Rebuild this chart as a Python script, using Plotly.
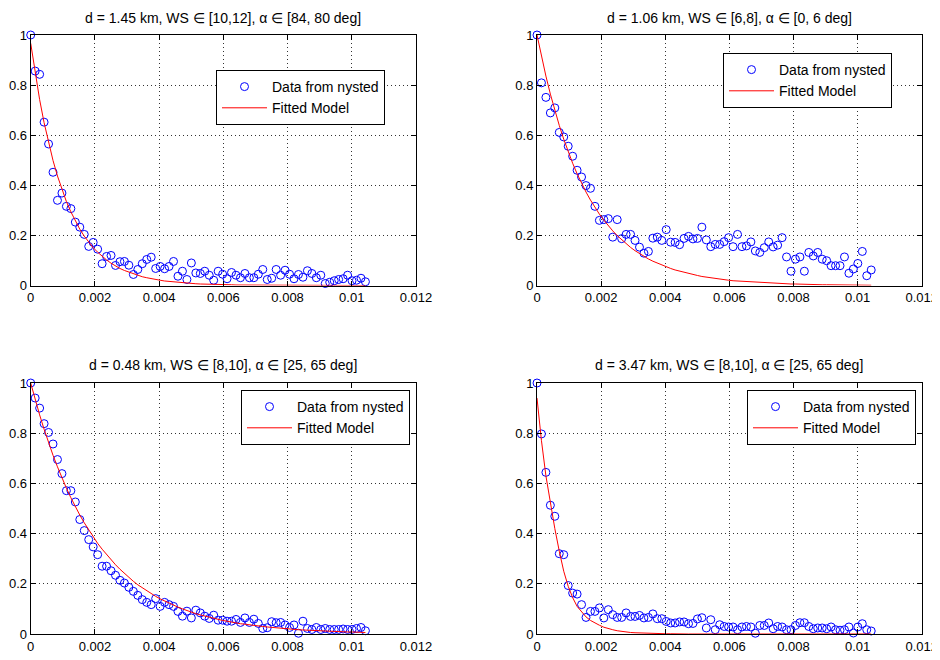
import plotly.graph_objects as go

# ---------------- data ----------------
lag = [0.0, 0.000139, 0.000278, 0.000417, 0.000556, 0.000695, 0.000834, 0.000973,
       0.001112, 0.001251, 0.00139, 0.001529, 0.001668, 0.001807, 0.001946, 0.002085,
       0.002224, 0.002363, 0.002502, 0.002641, 0.00278, 0.002919, 0.003058, 0.003197,
       0.003336, 0.003475, 0.003614, 0.003753, 0.003892, 0.004031, 0.00417, 0.004309,
       0.004448, 0.004587, 0.004726, 0.004865, 0.005004, 0.005143, 0.005282, 0.005421,
       0.00556, 0.005699, 0.005838, 0.005977, 0.006116, 0.006255, 0.006394, 0.006533,
       0.006672, 0.006811, 0.00695, 0.007089, 0.007228, 0.007367, 0.007506, 0.007645,
       0.007784, 0.007923, 0.008062, 0.008201, 0.00834, 0.008479, 0.008618, 0.008757,
       0.008896, 0.009035, 0.009174, 0.009313, 0.009452, 0.009591, 0.00973, 0.009869,
       0.010008, 0.010147, 0.010286, 0.010425]

p1_data = [1.0, 0.856, 0.843, 0.652, 0.565, 0.452, 0.34, 0.369, 0.316, 0.307,
           0.253, 0.233, 0.204, 0.156, 0.172, 0.145, 0.087, 0.116, 0.12, 0.08,
           0.095, 0.096, 0.081, 0.044, 0.064, 0.087, 0.104, 0.113, 0.068, 0.076,
           0.067, 0.076, 0.096, 0.037, 0.057, 0.024, 0.09, 0.05, 0.048, 0.057,
           0.041, 0.021, 0.057, 0.045, 0.027, 0.052, 0.041, 0.031, 0.048, 0.031,
           0.031, 0.045, 0.064, 0.024, 0.029, 0.064, 0.041, 0.061, 0.045, 0.027,
           0.044, 0.033, 0.059, 0.048, 0.031, 0.041, 0.008, 0.013, 0.019, 0.024,
           0.027, 0.041, 0.019, 0.021, 0.029, 0.015]
p1_fit = [0.967, 0.847, 0.742, 0.650, 0.569, 0.499, 0.437, 0.383, 0.335, 0.294,
          0.257, 0.225, 0.197, 0.173, 0.151, 0.133, 0.116, 0.102, 0.089, 0.078,
          0.068, 0.060, 0.053, 0.046, 0.040, 0.035, 0.031, 0.027, 0.024, 0.021,
          0.018, 0.016, 0.014, 0.012, 0.011, 0.010, 0.008, 0.007, 0.006, 0.006,
          0.005, 0.004, 0.004, 0.003, 0.003, 0.003, 0.002, 0.002, 0.002, 0.002,
          0.001, 0.001, 0.001, 0.001, 0.001, 0.001, 0.001, 0.001, 0.0, 0.0,
          0.0, 0.0, 0.0, 0.0, 0.0, 0.0, 0.0, 0.0, 0.0, 0.0,
          0.0, 0.0, 0.0, 0.0, 0.0, 0.0]

p2_data = [1.0, 0.809, 0.751, 0.689, 0.709, 0.611, 0.593, 0.556, 0.516, 0.46,
           0.433, 0.399, 0.388, 0.316, 0.26, 0.263, 0.267, 0.193, 0.263, 0.187,
           0.204, 0.204, 0.18, 0.153, 0.129, 0.136, 0.189, 0.193, 0.18, 0.223,
           0.173, 0.172, 0.163, 0.188, 0.196, 0.186, 0.188, 0.233, 0.182, 0.155,
           0.164, 0.164, 0.175, 0.191, 0.155, 0.204, 0.155, 0.158, 0.174, 0.138,
           0.132, 0.151, 0.174, 0.154, 0.161, 0.191, 0.114, 0.057, 0.105, 0.114,
           0.057, 0.132, 0.118, 0.132, 0.105, 0.099, 0.079, 0.079, 0.079, 0.114,
           0.049, 0.066, 0.088, 0.136, 0.039, 0.062]
p2_fit = [1.000, 0.914, 0.836, 0.764, 0.699, 0.639, 0.584, 0.534, 0.488, 0.446,
          0.408, 0.373, 0.341, 0.312, 0.285, 0.261, 0.238, 0.218, 0.199, 0.182,
          0.167, 0.152, 0.139, 0.127, 0.116, 0.106, 0.097, 0.089, 0.081, 0.074,
          0.068, 0.062, 0.057, 0.052, 0.047, 0.043, 0.040, 0.036, 0.033, 0.030,
          0.028, 0.025, 0.023, 0.021, 0.019, 0.018, 0.016, 0.015, 0.014, 0.013,
          0.011, 0.010, 0.010, 0.009, 0.008, 0.007, 0.007, 0.006, 0.006, 0.005,
          0.005, 0.004, 0.004, 0.004, 0.003, 0.003, 0.003, 0.003, 0.002, 0.002,
          0.002, 0.002, 0.002, 0.001, 0.001, 0.001]

p3_data = [1.0, 0.94, 0.90, 0.838, 0.803, 0.757, 0.695, 0.639, 0.571, 0.571,
           0.526, 0.456, 0.412, 0.376, 0.347, 0.316, 0.27, 0.27, 0.252, 0.234,
           0.214, 0.203, 0.186, 0.17, 0.154, 0.137, 0.126, 0.117, 0.141, 0.11,
           0.126, 0.117, 0.11, 0.09, 0.071, 0.091, 0.064, 0.095, 0.084, 0.071,
           0.062, 0.075, 0.055, 0.055, 0.051, 0.051, 0.058, 0.046, 0.064, 0.046,
           0.059, 0.042, 0.022, 0.025, 0.049, 0.045, 0.046, 0.036, 0.026, 0.036,
           0.003, 0.051, 0.022, 0.018, 0.026, 0.018, 0.022, 0.018, 0.018, 0.018,
           0.02, 0.018, 0.018, 0.022, 0.026, 0.013]
p3_fit = [1.000, 0.934, 0.873, 0.816, 0.762, 0.712, 0.666, 0.622, 0.581, 0.543,
          0.507, 0.474, 0.443, 0.414, 0.387, 0.361, 0.338, 0.316, 0.295, 0.276,
          0.258, 0.241, 0.225, 0.210, 0.196, 0.184, 0.171, 0.160, 0.150, 0.140,
          0.131, 0.122, 0.114, 0.107, 0.100, 0.093, 0.087, 0.081, 0.076, 0.071,
          0.066, 0.062, 0.058, 0.054, 0.051, 0.047, 0.044, 0.041, 0.039, 0.036,
          0.034, 0.032, 0.030, 0.028, 0.026, 0.024, 0.023, 0.021, 0.020, 0.018,
          0.017, 0.016, 0.015, 0.014, 0.013, 0.012, 0.011, 0.011, 0.010, 0.009,
          0.009, 0.008, 0.008, 0.007, 0.007, 0.006]

p4_data = [1.0, 0.797, 0.644, 0.513, 0.469, 0.32, 0.316, 0.193, 0.163, 0.159,
           0.117, 0.066, 0.09, 0.09, 0.104, 0.064, 0.097, 0.077, 0.066, 0.066,
           0.084, 0.07, 0.07, 0.074, 0.064, 0.066, 0.08, 0.061, 0.061, 0.05,
           0.044, 0.044, 0.048, 0.048, 0.041, 0.042, 0.06, 0.065, 0.024, 0.057,
           0.017, 0.037, 0.03, 0.028, 0.028, 0.017, 0.028, 0.03, 0.028, 0.003,
           0.034, 0.034, 0.044, 0.021, 0.03, 0.028, 0.017, 0.017, 0.034, 0.045,
           0.045, 0.03, 0.021, 0.024, 0.024, 0.021, 0.028, 0.017, 0.015, 0.017,
           0.028, 0.004, 0.028, 0.041, 0.017, 0.012]
p4_fit = [0.94, 0.77, 0.63, 0.52, 0.42, 0.33, 0.25, 0.19, 0.145, 0.11,
          0.088, 0.068, 0.054, 0.043, 0.035, 0.027, 0.021, 0.017, 0.013, 0.010,
          0.008, 0.006, 0.005, 0.004, 0.003, 0.003, 0.002, 0.002, 0.001, 0.001,
          0.001, 0.0, 0.0, 0.0, 0.0, 0.0, 0.0, 0.0, 0.0, 0.0,
          0.0, 0.0, 0.0, 0.0, 0.0, 0.0, 0.0, 0.0, 0.0, 0.0,
          0.0, 0.0, 0.0, 0.0, 0.0, 0.0, 0.0, 0.0, 0.0, 0.0,
          0.0, 0.0, 0.0, 0.0, 0.0, 0.0, 0.0, 0.0, 0.0, 0.0,
          0.0, 0.0, 0.0, 0.0, 0.0, 0.0]

titles = ["d = 1.45 km, WS \u2208 [10,12], \u03b1 \u2208 [84, 80 deg]",
          "d = 1.06 km, WS \u2208 [6,8], \u03b1 \u2208 [0, 6 deg]",
          "d = 0.48 km, WS \u2208 [8,10], \u03b1 \u2208 [25, 65 deg]",
          "d = 3.47 km, WS \u2208 [8,10], \u03b1 \u2208 [25, 65 deg]"]
data_name = "Data from nysted"
fit_name = "Fitted Model"

x_tick_vals = [0, 0.002, 0.004, 0.006, 0.008, 0.01, 0.012]
x_tick_text = ["0", "0.002", "0.004", "0.006", "0.008", "0.01", "0.012"]
y_tick_vals = [0, 0.2, 0.4, 0.6, 0.8, 1]
y_tick_text = ["0", "0.2", "0.4", "0.6", "0.8", "1"]

# ---------------- layout geometry (page pixels) ----------------
OFF = 8                      # default body margin of the html page
W, H = 940 - OFF, 660 - OFF  # figure size so that it ends at the window edge
FONT = "Liberation Sans, Arial, Helvetica, sans-serif"
col_px = [(30.7, 416.0), (537.0, 921.7)]
row_px = [(35.0, 285.5), (383.0, 634.0)]
legend_px = [(216, 70), (723, 53), (241, 390), (747, 390)]
title_px_y = [18, 365]


def fx(px):
    return (px - OFF) / W


def fy(py):
    return 1 - (py - OFF) / H


panels = [(p1_data, p1_fit), (p2_data, p2_fit), (p3_data, p3_fit), (p4_data, p4_fit)]

fig = go.Figure()
layout = dict(width=W, height=H, autosize=False,
              margin=dict(l=0, r=0, t=0, b=0, pad=0, autoexpand=False),
              paper_bgcolor="white", plot_bgcolor="white",
              font=dict(family=FONT, size=13, color="black"),
              annotations=[])

for k, (yd, yf) in enumerate(panels):
    r, c = divmod(k, 2)
    sfx = "" if k == 0 else str(k + 1)
    xa, ya = "x" + sfx, "y" + sfx
    lg = "legend" + sfx
    fig.add_trace(go.Scatter(x=lag, y=yd, mode="markers", name=data_name,
                             xaxis=xa, yaxis=ya, legend=lg, cliponaxis=False,
                             marker=dict(symbol="circle-open", size=8, color="#0000ff",
                                         line=dict(width=1, color="#0000ff"))))
    fig.add_trace(go.Scatter(x=lag, y=yf, mode="lines", name=fit_name,
                             xaxis=xa, yaxis=ya, legend=lg,
                             line=dict(color="#ff0000", width=1)))
    x0, x1 = col_px[c]
    y0, y1 = row_px[r]
    axis_common = dict(showline=True, linecolor="black", linewidth=1, mirror="ticks",
                       ticks="inside", ticklen=5, tickcolor="black", tickwidth=1,
                       showgrid=True, gridcolor="#333333", gridwidth=1,
                       griddash="1px,3px", zeroline=False, automargin=False,
                       tickfont=dict(family=FONT, size=13, color="black"))
    layout["xaxis" + sfx] = dict(domain=[fx(x0), fx(x1)], anchor=ya, range=[0, 0.012],
                                 tickvals=x_tick_vals, ticktext=x_tick_text, **axis_common)
    layout["yaxis" + sfx] = dict(domain=[fy(y1), fy(y0)], anchor=xa, range=[0, 1],
                                 tickvals=y_tick_vals, ticktext=y_tick_text, **axis_common)
    lx, ly = legend_px[k]
    layout[lg] = dict(x=fx(lx), y=fy(ly), xanchor="left", yanchor="top",
                      bgcolor="white", bordercolor="black", borderwidth=1,
                      font=dict(family=FONT, size=14, color="black"),
                      itemwidth=45, tracegroupgap=0)
    layout["annotations"].append(dict(text=titles[k], xref="paper", yref="paper",
                                      x=fx((x0 + x1) / 2), y=fy(title_px_y[r]),
                                      xanchor="center", yanchor="middle", showarrow=False,
                                      font=dict(family=FONT, size=14, color="black")))

fig.update_layout(**layout)
fig.write_html("out.html")
